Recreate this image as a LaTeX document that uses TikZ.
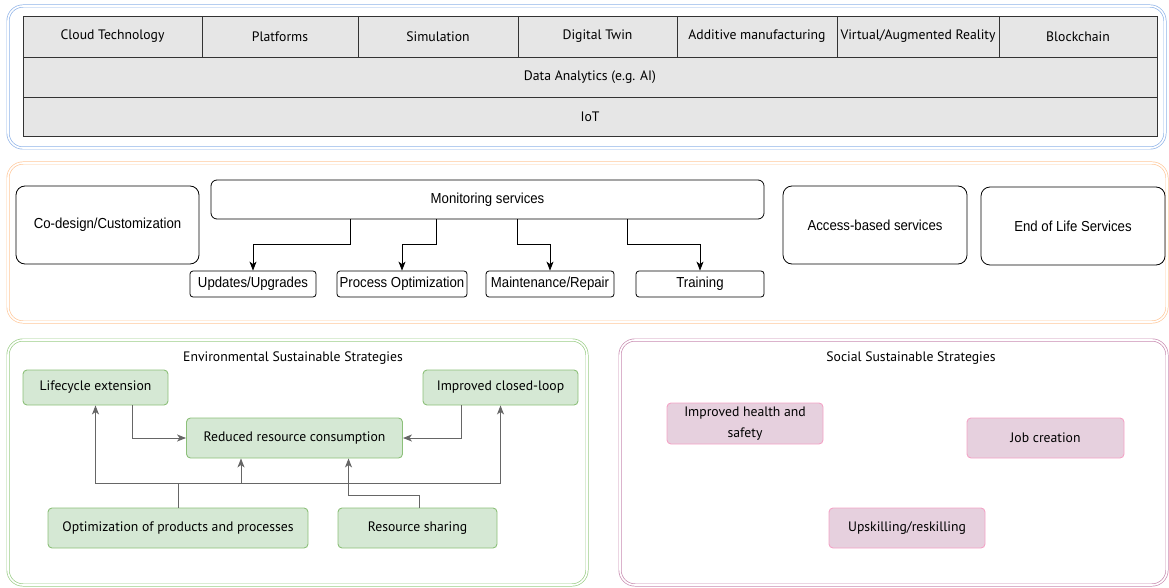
\documentclass[tikz,border=0pt]{standalone}
\usepackage{fontspec}
\setmainfont{PT Sans}
\newfontfamily\narrowsans[FakeStretch=0.91]{Liberation Sans}
\usetikzlibrary{arrows.meta,calc}

\definecolor{frameblue}{HTML}{8FB3E8}
\definecolor{frameorange}{HTML}{FFC89A}
\definecolor{framegreen}{HTML}{9ACD86}
\definecolor{framepink}{HTML}{C88BB0}
\definecolor{cellgray}{HTML}{E6E6E6}
\definecolor{celledge}{HTML}{333333}
\definecolor{greenfill}{HTML}{D5E8D4}
\definecolor{greenedge}{HTML}{8CC079}
\definecolor{pinkfill}{HTML}{E6D0DE}
\definecolor{pinkedge}{HTML}{F4A3C6}
\definecolor{linkgray}{HTML}{666666}

\tikzset{
  frame/.style={line width=0.7pt, double=white, double distance=1.6pt, rounded corners=15pt},
  cell/.style={draw=celledge, fill=cellgray, line width=0.9pt, inner sep=0pt,
    font=\fontsize{13.7}{15}\selectfont},
  svcbox/.style={draw=black, line width=0.8pt, rounded corners=9pt, inner sep=0pt,
    font=\narrowsans\fontsize{14.5}{16}\selectfont},
  subbox/.style={draw=black, line width=0.8pt, rounded corners=3pt, inner sep=0pt,
    minimum height=26pt, font=\narrowsans\fontsize{14.5}{16}\selectfont},
  greenbox/.style={draw=greenedge, fill=greenfill, line width=0.9pt, rounded corners=4pt,
    inner sep=0pt, font=\fontsize{13.7}{15}\selectfont},
  pinkbox/.style={draw=pinkedge, fill=pinkfill, line width=0.9pt, rounded corners=4pt,
    inner sep=0pt, align=center, font=\fontsize{13.7}{21}\selectfont},
  title/.style={inner sep=0pt, font=\fontsize{13.7}{15}\selectfont},
  barrow/.style={draw=black, line width=0.9pt, -{Stealth[length=9pt,width=7pt,inset=2.5pt]}},
  garrow/.style={draw=linkgray, line width=1pt, -{Stealth[length=9pt,width=7pt,inset=2.5pt]}},
  gline/.style={draw=linkgray, line width=1pt}
}

\begin{document}
\begin{tikzpicture}[x=1pt,y=-1pt]
\useasboundingbox (0,0) rectangle (1169,588);

% ---------- technology layer ----------
\draw[frame, draw=frameblue] (8,6) rectangle (1165,148);

\node[cell, minimum width=179pt, minimum height=41pt] (c1) at (112.5,36.5) {Cloud Technology};
\node[cell, minimum width=156pt, minimum height=41pt] (c2) at (280,36.5) {Platforms};
\node[cell, minimum width=160pt, minimum height=41pt] (c3) at (438,36.5) {Simulation};
\node[cell, minimum width=159pt, minimum height=41pt] (c4) at (597.5,36.5) {Digital Twin};
\node[cell, minimum width=160pt, minimum height=41pt] (c5) at (757,36.5) {Additive manufacturing};
\node[cell, minimum width=162pt, minimum height=41pt] (c6) at (918,36.5) {Virtual/Augmented Reality};
\node[cell, minimum width=158pt, minimum height=41pt] (c7) at (1078,36.5) {Blockchain};
\node[cell, minimum width=1134pt, minimum height=40pt] (da) at (590,77) {Data Analytics (e.g. AI)};
\node[cell, minimum width=1134pt, minimum height=39pt] (iot) at (590,116.5) {IoT};

% ---------- services layer ----------
\draw[frame, draw=frameorange] (8,163) rectangle (1167,322);

\node[svcbox, minimum width=183pt, minimum height=78pt] (cod) at (107.5,225) {Co-design/Customization};
\node[svcbox, rounded corners=6pt, minimum width=553pt, minimum height=39pt] (ms) at (487.5,199.5) {Monitoring services};
\node[svcbox, minimum width=184pt, minimum height=78pt] (abs) at (875,225) {Access-based services};
\node[svcbox, minimum width=184pt, minimum height=78pt] (eol) at (1073,226) {End of Life Services};

\node[subbox, minimum width=126pt] (uu) at (253,284) {Updates/Upgrades};
\node[subbox, minimum width=130pt] (po) at (402,284) {Process Optimization};
\node[subbox, minimum width=128pt] (mr) at (550,284) {Maintenance/Repair};
\node[subbox, minimum width=128pt] (tr) at (700,284) {Training};

\draw[barrow] ([xshift=-137.5pt]ms.south) -- ++(0,25) -| (uu.north);
\draw[barrow] ([xshift=-51.5pt]ms.south) -- ++(0,25) -| (po.north);
\draw[barrow] ([xshift=29.5pt]ms.south) -- ++(0,25) -| (mr.north);
\draw[barrow] ([xshift=139.5pt]ms.south) -- ++(0,25) -| (tr.north);

% ---------- environmental strategies ----------
\draw[frame, draw=framegreen] (8,340) rectangle (587,585);
\node[title] (envt) at (293,358) {Environmental Sustainable Strategies};

\node[greenbox, minimum width=145pt, minimum height=35pt] (lc) at (95.5,387.5) {Lifecycle extension};
\node[greenbox, minimum width=155pt, minimum height=35pt] (icl) at (500.5,387.5) {Improved closed-loop};
\node[greenbox, minimum width=216pt, minimum height=40pt] (rrc) at (294.5,438) {Reduced resource consumption};
\node[greenbox, minimum width=260pt, minimum height=40pt] (opt) at (178,528) {Optimization of products and processes};
\node[greenbox, minimum width=159pt, minimum height=40pt] (rs) at (417.5,528) {Resource sharing};

\draw[garrow] ([xshift=36.5pt]lc.south) |- (rrc.west);
\draw[garrow] ([xshift=-39.5pt]icl.south) |- (rrc.east);
\coordinate (bus) at ($(opt.north)+(0,-24)$);
\draw[gline] (opt.north) -- (bus);
\draw[garrow] (bus) -| (lc.south);
\draw[garrow] (bus) -| (icl.south);
\draw[garrow] (bus) -| ([xshift=-53.5pt]rrc.south);
\draw[garrow] ([xshift=2pt]rs.north) -- ++(0,-12) -| ([xshift=54pt]rrc.south);

% ---------- social strategies ----------
\draw[frame, draw=framepink] (620,340) rectangle (1167,585);
\node[title] (soct) at (911,358) {Social Sustainable Strategies};

\node[pinkbox, minimum width=156pt, minimum height=41pt] (ihs) at (745,423.5) {Improved health and\\safety};
\node[pinkbox, minimum width=157pt, minimum height=40pt] (jc) at (1045.5,438) {Job creation};
\node[pinkbox, minimum width=156pt, minimum height=40pt] (ur) at (907,528) {Upskilling/reskilling};
\end{tikzpicture}
\end{document}
